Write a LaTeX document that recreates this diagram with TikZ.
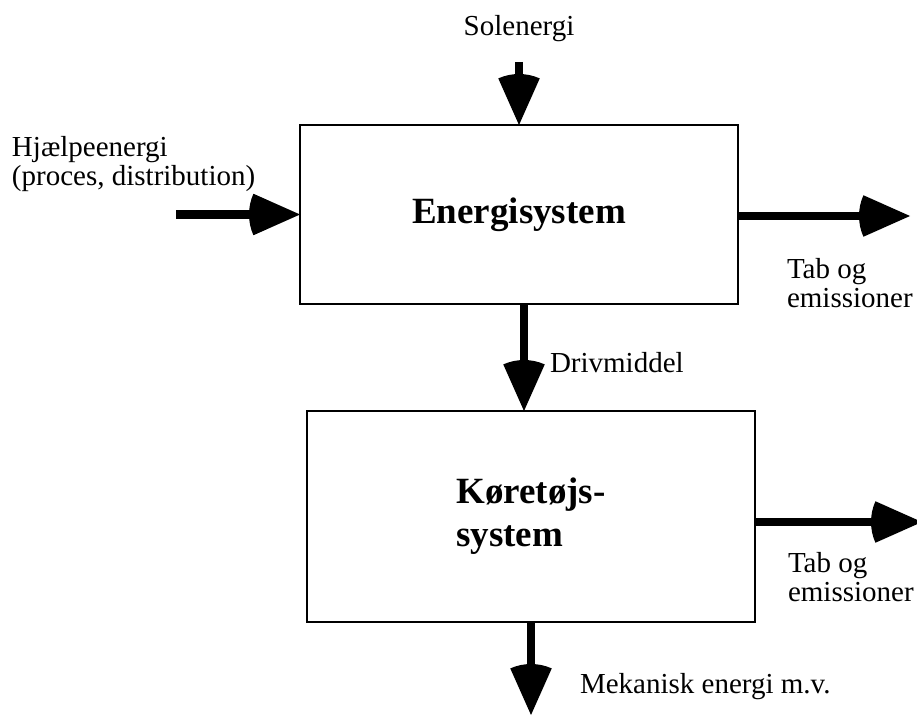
\documentclass[tikz,border=0pt]{standalone}
\usepackage{fontspec}
\setmainfont{Liberation Serif}
\newcommand\flowarrow[3]{%
  \draw[shaft] (#1) -- (#2);
  \fill (#2) -- ++(#3+204:51) arc[start angle=#3+204, end angle=#3+156, radius=51] -- cycle;
}
\begin{document}
\begin{tikzpicture}[x=1pt,y=1pt,
  box/.style={draw, line width=2.5pt, rectangle, inner sep=0pt, outer sep=0pt},
  shaft/.style={line width=8.5pt, shorten >=25pt},
  lbl/.style={inner sep=0pt, outer sep=0pt, anchor=base west, font=\fontsize{29}{29}\selectfont},
  title/.style={font=\fontsize{37}{43}\selectfont\bfseries}]
\useasboundingbox (0,0) rectangle (917,716);
% boxes
\node[box, title, minimum width=438pt, minimum height=179pt] (box1) at (519,501.5) {Energisystem};
\node[box, title, align=left, minimum width=448pt, minimum height=211pt] (box2) at (531,199.5) {Køretøjs-\\system};
% labels
\node[lbl, anchor=base] (sol) at (519,680) {Solenergi};
\node[lbl] (hj) at (12,559) {\vtop{\hbox{Hjælpeenergi}\hbox{(proces, distribution)}}};
\node[lbl] (tab1) at (787,438) {\vtop{\hbox{Tab og}\hbox{emissioner}}};
\node[lbl] (tab2) at (788,144) {\vtop{\hbox{Tab og}\hbox{emissioner}}};
\node[lbl] (driv) at (550,344) {Drivmiddel};
\node[lbl] (mek) at (580,23) {Mekanisk energi m.v.};
% connector end points
\coordinate (solstart) at (519,654);
\coordinate (hjstart) at (176,501.5);
\coordinate (t1end) at (910,500);
\coordinate (dx) at (524,0);
\coordinate (t2end) at (922,194);
\coordinate (mekend) at (531,1);
% arrows
\flowarrow{solstart}{box1.north}{-90}
\flowarrow{hjstart}{box1.west}{0}
\flowarrow{box1.east |- t1end}{t1end}{0}
\flowarrow{box1.south -| dx}{box2.north -| dx}{-90}
\flowarrow{box2.east |- t2end}{t2end}{0}
\flowarrow{box2.south}{mekend}{-90}
\end{tikzpicture}
\end{document}
